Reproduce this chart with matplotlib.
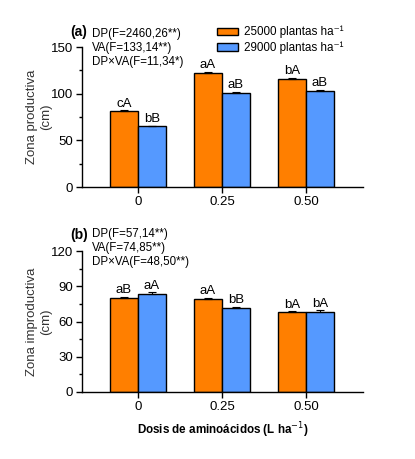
import numpy as np
import matplotlib.pyplot as plt
from matplotlib.ticker import MultipleLocator
from matplotlib.patches import Patch

plt.rcParams['font.family'] = ['Liberation Sans', 'DejaVu Sans']

doses = ['0', '0.25', '0.50']
series_names = ['25000 plantas ha⁻¹', '29000 plantas ha⁻¹']

# (a) zona productiva
prod_25 = [81.0, 122.5, 116.0]
prod_29 = [65.0, 101.0, 103.0]
prod_25_err = [1.5, 1.2, 1.2]
prod_29_err = [0.8, 1.0, 1.2]
prod_lbl_25 = ['cA', 'aA', 'bA']
prod_lbl_29 = ['bB', 'aB', 'aB']

# (b) zona improductiva
impr_25 = [80.0, 79.3, 68.3]
impr_29 = [83.5, 71.8, 68.3]
impr_25_err = [1.2, 0.8, 0.5]
impr_29_err = [1.5, 0.8, 1.3]
impr_lbl_25 = ['aB', 'aA', 'bA']
impr_lbl_29 = ['aA', 'bB', 'bA']

orange = '#FF7F00'
blue = '#5599FF'

fig = plt.figure(figsize=(4.15, 4.59), dpi=100)
ax1 = fig.add_axes([82/415, 1 - 187/459, 281/415, 140/459])
ax2 = fig.add_axes([82/415, 1 - 392/459, 281/415, 141/459])

x = np.arange(len(doses))
w = 0.333

def draw(ax, v1, v2, e1, e2, l1, l2, ymax, major, minor, off):
    ax.bar(x - w/2, v1, w, color=orange, edgecolor='black', linewidth=1.0, zorder=2)
    ax.bar(x + w/2, v2, w, color=blue, edgecolor='black', linewidth=1.0, zorder=2)
    ax.errorbar(x - w/2, v1, yerr=[np.zeros(3), e1], fmt='none', ecolor='black',
                elinewidth=0.8, capsize=3, capthick=0.8, zorder=3)
    ax.errorbar(x + w/2, v2, yerr=[np.zeros(3), e2], fmt='none', ecolor='black',
                elinewidth=0.8, capsize=3, capthick=0.8, zorder=3)
    for i in range(3):
        ax.text(x[i] - w/2, v1[i] + e1[i] + off, l1[i], ha='center', va='bottom', fontsize=9.5)
        ax.text(x[i] + w/2, v2[i] + e2[i] + off, l2[i], ha='center', va='bottom', fontsize=9.5)
    ax.set_xlim(-0.667, 2.68)
    ax.set_ylim(0, ymax)
    ax.yaxis.set_major_locator(MultipleLocator(major))
    ax.yaxis.set_minor_locator(MultipleLocator(minor))
    ax.set_xticks(x)
    ax.set_xticklabels(doses)
    ax.spines['top'].set_visible(False)
    ax.spines['right'].set_visible(False)
    ax.spines['left'].set_linewidth(1.0)
    ax.spines['bottom'].set_linewidth(1.0)
    ax.tick_params(axis='both', labelsize=9.5, width=1.0, length=4, pad=2.5)
    ax.tick_params(axis='y', which='minor', length=2.5, width=1.0)

draw(ax1, prod_25, prod_29, prod_25_err, prod_29_err, prod_lbl_25, prod_lbl_29, 150, 50, 25, 0.5)
draw(ax2, impr_25, impr_29, impr_25_err, impr_29_err, impr_lbl_25, impr_lbl_29, 120, 30, 15, 0.5)

ax1.set_ylabel('Zona productiva\n(cm)', fontsize=9.5, color='#333333')
ax2.set_ylabel('Zona improductiva\n(cm)', fontsize=9.5, color='#333333')
ax1.yaxis.set_label_coords(-0.108, 0.5)
ax2.yaxis.set_label_coords(-0.108, 0.5)
ax2.set_xlabel('Dosis de aminoácidos (L ha$^{-1}$)', fontsize=8.4, fontweight='bold', labelpad=5)

# annotations, positioned in figure pixels
def fig_text(px, py, s, **kw):
    fig.text(px/415, 1 - py/459, s, **kw)

fig_text(70, 32, '(a)', fontsize=10, fontweight='bold', va='center')
fig_text(92, 28, 'DP(F=2460,26**)\nVA(F=133,14**)\nDP×VA(F=11,34*)',
         fontsize=8.3, va='top', linespacing=1.2)
fig_text(70, 235, '(b)', fontsize=10, fontweight='bold', va='center')
fig_text(92, 228, 'DP(F=57,14**)\nVA(F=74,85**)\nDP×VA(F=48,50**)',
         fontsize=8.3, va='top', linespacing=1.2)

handles = [Patch(facecolor=orange, edgecolor='black', linewidth=1.0),
           Patch(facecolor=blue, edgecolor='black', linewidth=1.0)]
fig.legend(handles, series_names, loc='upper left', bbox_to_anchor=(217/415, 1 - 26/459),
           frameon=False, fontsize=8.4, handlelength=1.8, handleheight=0.65,
           labelspacing=0.25, handletextpad=0.5, borderpad=0, borderaxespad=0)

fig.savefig('out.png', dpi=100)
